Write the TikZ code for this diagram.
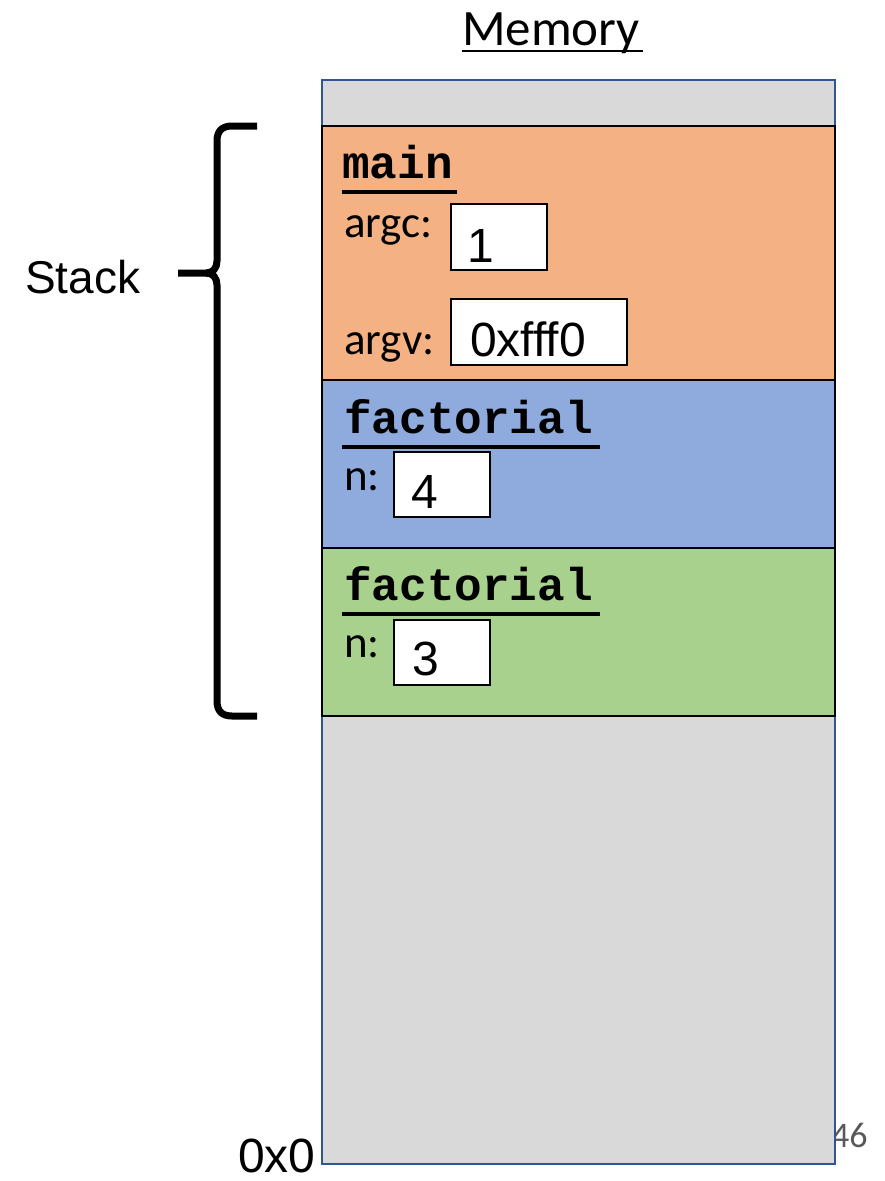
\documentclass[tikz,border=0pt]{standalone}
\usepackage{fontspec}
\setmainfont{Liberation Sans}
\newfontfamily\calibri{Carlito}
\newfontfamily\courier{Liberation Mono}
\usetikzlibrary{positioning}

\definecolor{memgray}{HTML}{D9D9D9}
\definecolor{memedge}{HTML}{2F5597}
\definecolor{mainorange}{HTML}{F4B183}
\definecolor{factblue}{HTML}{8FAADC}
\definecolor{factgreen}{HTML}{A9D18E}
\definecolor{pagegray}{HTML}{595959}

\tikzset{
  txt/.style={inner sep=0pt,anchor=base west},
  arialtxt/.style={txt,font=\fontsize{48}{52}\selectfont},
  vartxt/.style={txt,font=\calibri\fontsize{45}{50}\selectfont},
  frametxt/.style={txt,font=\courier\bfseries\fontsize{46}{50}\selectfont},
  framebox/.style={draw=black,line width=2pt},
  valbox/.style={draw=black,line width=1.5pt,fill=white},
  fnline/.style={line width=4.5pt}
}

\begin{document}
\begin{tikzpicture}[x=1pt,y=-1pt]
  \useasboundingbox (0,0) rectangle (884,1181);

  \node[txt,font=\calibri\fontsize{36}{40}\selectfont,text=pagegray] at(831,1147)(page){46};

  \node[txt,anchor=base,font=\calibri\fontsize{51}{56}\selectfont] at(551,45)(memory){Memory};
  \draw [line width=2.5pt](memory.base west) ++(0,6) -- ++(181,0);

  \draw [fill=memgray,draw=memedge,line width=2.5pt](322,80) rectangle (835,1164);
  \draw [framebox,fill=mainorange](322,126) rectangle (835,380);
  \draw [framebox,fill=factblue](322,380) rectangle (835,548);
  \draw [framebox,fill=factgreen](322,548) rectangle (835,716);

  \node[frametxt] at(342,178)(main){main};
  \draw [fnline](342,192) -- (457,192);
  \node[vartxt] at(344,237)(argc){argc:};
  \draw [valbox](451,204) rectangle (547,270);
  \node[arialtxt] at(467,262)(argcval){1};
  \node[vartxt] at(344,354)(argv){argv:};
  \draw [valbox](451,299) rectangle (627,365);
  \node[arialtxt] at(470,356)(argvval){0xfff0};

  \node[frametxt] at(344,433)(facta){factorial};
  \draw [fnline](342,447) -- (600,447);
  \node[vartxt] at(344,490)(na){n:};
  \draw [valbox](394,452) rectangle (490,517);
  \node[arialtxt] at(411,508)(naval){4};

  \node[frametxt] at(344,600)(factb){factorial};
  \draw [fnline](342,614) -- (600,614);
  \node[vartxt] at(344,657)(nb){n:};
  \draw [valbox](394,620) rectangle (490,685);
  \node[arialtxt] at(412,675)(nbval){3};

  \node[txt,font=\fontsize{46}{50}\selectfont] at(25,293)(stack){Stack};
  \draw [line width=7pt](257,126) -- (232,126) .. controls (222,126) and (217,131) .. (217,141)
    -- (217,261) .. controls (217,268) and (213,273) .. (206,273) -- (178,273);
  \draw [line width=7pt](206,273) .. controls (213,273) and (217,278) .. (217,285)
    -- (217,701) .. controls (217,711) and (222,716) .. (232,716) -- (257,716);

  \node[arialtxt] at(238,1172)(zero){0x0};

\end{tikzpicture}
\end{document}
